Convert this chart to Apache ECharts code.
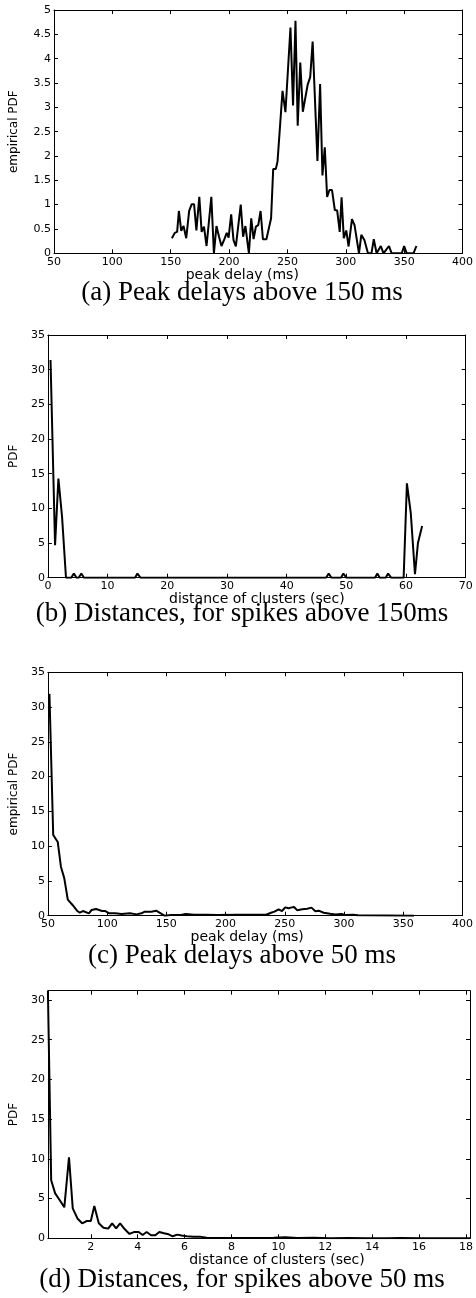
<!DOCTYPE html>
<html><head><meta charset="utf-8">
<script src="https://cdn.jsdelivr.net/npm/echarts@6/dist/echarts.min.js"></script>
<style>html,body{margin:0;padding:0;background:#fff}#c{width:476px;height:1298px}</style>
</head><body><div id="c"></div>
<script>
// (a) Peak delays above 150 ms
const aX = [151,153.5,155.5,157,159,161,163.3,165.8,168,170,172,174.5,176.5,178.5,180.7,184.8,187,189.2,191.4,193.5,196,198,199.6,201.8,203.8,205.8,210,212,214,217,219,221,223,225,227,229,232,236,237.8,240,241.5,245.8,248.3,252.6,254.8,256.9,258.8,261,263.2,267.3,269.5,271.6,275.7,278,280,282,284,286,288.2,290.6,292.6,294.8,296.4,298.3,300.4,302.4,305.3,307.5,311.3,313.3,316,319,322,324,326.4,330,332.3,337,339.3,348,350,352.2,358,360.5];
const aY = [0.31,0.42,0.44,0.87,0.46,0.56,0.31,0.87,1.01,1.01,0.47,1.16,0.44,0.55,0.15,1.16,0,0.56,0.34,0.15,0.29,0.42,0.32,0.8,0.27,0.14,1.0,0.34,0.56,0,0.72,0.29,0.55,0.58,0.87,0.29,0.29,0.72,1.73,1.73,1.88,3.34,2.9,4.64,3.04,4.78,2.62,3.92,2.91,3.46,3.62,4.35,1.9,3.48,1.6,2.18,1.16,1.3,1.3,0.89,0.88,0.44,1.15,0.31,0.47,0.14,0.7,0.58,0,0.38,0.27,0,0,0.29,0,0.15,0,0.15,0,0,0.15,0,0,0.15];
// (b) Distances, for spikes above 150ms
const bX = [0.44,1.2,1.76,2.37,3.03,3.9,4.35,4.8,5.15,5.6,6.05,14.6,15.0,15.5,46.6,47.05,47.5,49.1,49.5,50.0,54.8,55.2,55.6,56.6,57.0,57.5,59.6,60.15,60.8,61.5,62.0,62.7];
const bY = [31.4,4.7,14.3,8.8,0,0,0.6,0,0,0.6,0,0,0.6,0,0,0.6,0,0,0.6,0,0,0.6,0,0,0.6,0,0,13.6,9.3,0.5,5.0,7.45];
// (c) Peak delays above 50 ms
const cX = [51.3,54.5,58.3,61,63.8,66.8,70.8,74.9,76.9,79.6,84.6,86.9,90.7,95.7,98.5,101.8,106.8,112.3,119.3,124.8,129,131.7,137.3,141.4,144.2,148.4,153.9,162.2,166.4,173.3,184.4,192.7,209.3,226,234.3,238.4,241.2,244.8,247.6,250.4,253.2,255,257.8,260.6,264.7,268.9,272.5,275.8,278.6,282.8,288.3,292.5,298,300.8,307.7,311.9,359];
const cY = [31.9,11.6,10.6,7.05,5.4,2.3,1.54,0.67,0.43,0.67,0.34,0.82,0.96,0.67,0.67,0.34,0.34,0.24,0.34,0.19,0.34,0.58,0.58,0.72,0.43,0,0.1,0.1,0.24,0.14,0.14,0.1,0.14,0.14,0.14,0.43,0.58,0.92,0.67,1.2,1.06,1.16,1.25,0.77,0.92,1.01,1.16,0.63,0.72,0.43,0.29,0.19,0.24,0.1,0.14,0.05,0];
// (d) Distances, for spikes above 50 ms
const dX = [0.17,0.31,0.48,0.67,0.87,1.07,1.23,1.43,1.63,1.83,2.0,2.15,2.34,2.54,2.74,2.91,3.08,3.25,3.45,3.65,3.86,4.04,4.21,4.38,4.57,4.75,4.92,5.12,5.32,5.49,5.69,5.87,6.09,6.37,6.65,6.94,7.5,8.0,8.6,9.2,9.8,10.3,10.8,11.5,12.2,13.0,13.8,14.6,15.2,16.0,17.0,18.17];
const dY = [31.17,7.3,5.66,4.82,3.9,10.2,3.77,2.5,1.89,2.18,2.18,4.07,1.89,1.34,1.22,1.89,1.26,1.89,1.13,0.55,0.8,0.8,0.42,0.8,0.38,0.38,0.8,0.63,0.5,0.25,0.46,0.34,0.25,0.21,0.21,0.08,0.05,0.03,0.05,0.03,0.06,0.12,0.04,0.06,0.02,0.03,0.02,0.02,0.05,0.02,0.01,0];
const dXTicks = [2,4,6,8,10,12,14,16,18];
const dYTicks = [0,5,10,15,20,25,30];

const xNames = ['peak delay (ms)','distance of clusters (sec)','peak delay (ms)','distance of clusters (sec)'];
const yNames = ['empirical PDF','PDF','empirical PDF','PDF'];
const captions = ['(a) Peak delays above 150 ms','(b) Distances, for spikes above 150ms','(c) Peak delays above 50 ms','(d) Distances, for spikes above 50 ms'];

const zip = (x,y)=>x.map((v,i)=>[v,y[i]]);
const datasets = [zip(aX,aY),zip(bX,bY),zip(cX,cY),zip(dX,dY)];

const grids = [
  {left:48.3, top:10, width:414.5, height:243.3},
  {left:41.7, top:335, width:424, height:242.7},
  {left:41.7, top:672.3, width:421, height:243.4},
  {left:46.7, top:990.7, width:426.6, height:247.6}
];
const xRange = [{min:50,max:400,interval:50},{min:0,max:70,interval:10},{min:50,max:400,interval:50},{min:0.17,max:18.17,custom:dXTicks}];
const yRange = [{min:0,max:5,interval:0.5},{min:0,max:35,interval:5},{min:0,max:35,interval:5},{min:0,max:31.17,custom:dYTicks}];
const yNameGap = [34,20,14,21];
const xNameShift = [-16,0,-8,18];
const capY = [293,614,956,1280];

const lineC = '#000';
const tickFont = {fontFamily:'DejaVu Sans', fontSize:11, color:'#000'};
function mkAxis(r, main, extra){
  const a = Object.assign({type:'value', min:r.min, max:r.max, splitLine:{show:false},
    axisLine:{show:true, onZero:false, lineStyle:{color:lineC, width:1}},
    axisTick:{show:true, inside:true, length:4, lineStyle:{color:lineC, width:1}},
    axisLabel:Object.assign({show:main}, tickFont)}, extra);
  if (r.interval!==undefined) a.interval = r.interval;
  if (r.custom) { a.axisTick.customValues = r.custom; a.axisLabel.customValues = r.custom; }
  return a;
}
const xAxis=[], yAxis=[], series=[];
grids.forEach((g,i)=>{
  const s = xNameShift[i];
  const pad = s>=0 ? [0,0,0,2*s] : [0,-2*s,0,0];
  xAxis.push(mkAxis(xRange[i], true, {gridIndex:i, position:'bottom', name:xNames[i], nameLocation:'middle', nameGap:13,
    nameTextStyle:{fontFamily:'DejaVu Sans', fontSize:14, color:'#000', padding:pad}}));
  xAxis[xAxis.length-1].axisLabel.margin = 3;
  xAxis.push(mkAxis(xRange[i], false, {gridIndex:i, position:'top'}));
  yAxis.push(mkAxis(yRange[i], true, {gridIndex:i, position:'left', name:yNames[i], nameLocation:'middle', nameGap:yNameGap[i],
    nameTextStyle:{fontFamily:'DejaVu Sans', fontSize:12, color:'#000'}}));
  yAxis[yAxis.length-1].axisLabel.margin = 3;
  yAxis.push(mkAxis(yRange[i], false, {gridIndex:i, position:'right'}));
  series.push({type:'line', xAxisIndex:2*i, yAxisIndex:2*i, data:datasets[i], showSymbol:false, symbol:'none',
    lineStyle:{color:'#000', width:2}, clip:true});
});
const graphic = captions.map((t,i)=>({type:'text', x:242, y:capY[i],
  style:{text:t, font:'27px "Liberation Serif"', fill:'#000', textAlign:'center', textVerticalAlign:'middle', align:'center', verticalAlign:'middle'}}));

const chart = echarts.init(document.getElementById('c'), null, {renderer:'canvas'});
chart.setOption({animation:false, backgroundColor:'#fff', grid:grids.map(g=>Object.assign({containLabel:false}, g)),
  xAxis, yAxis, series, graphic});
</script></body></html>
